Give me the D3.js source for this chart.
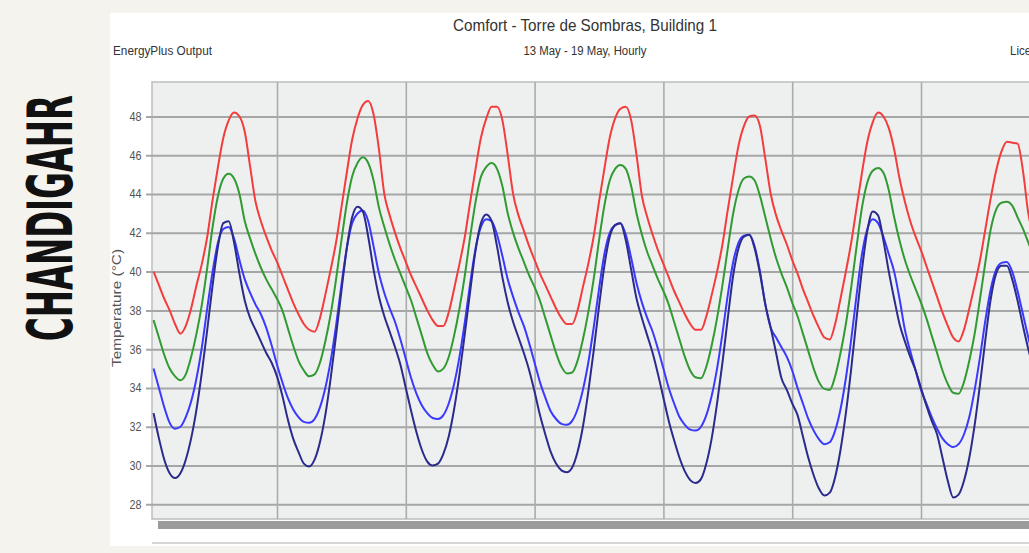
<!DOCTYPE html>
<html><head><meta charset="utf-8">
<script src="https://cdn.jsdelivr.net/npm/d3@7/dist/d3.min.js"></script>
<style>
html,body{margin:0;padding:0;background:#f4f3ee;overflow:hidden;}
svg{display:block;}
</style></head><body>
<svg id="c" width="1029" height="553"></svg>
<script>
// ---- data (hourly, 13 May 01:00 onward) ----
const yTicks = [28,30,32,34,36,38,40,42,44,46,48];
const dayBreaks = [24,48,72,96,120,144];
const titleText = "Comfort - Torre de Sombras, Building 1";
const subtitleText = "13 May - 19 May, Hourly";
const sideLabel = "CHANDIGAHR";
const yLabel = "Temperature (°C)";

const seriesRed = [
 40.0,39.3,38.6,38.0,37.3,36.8,37.2,38.1,39.3,40.4,41.8,43.7,45.4,46.9,47.8,48.2,48.0,47.2,45.4,43.6,42.6,41.8,41.1,40.5,
 39.8,39.1,38.4,37.8,37.3,37.0,36.9,37.6,38.8,40.1,41.5,43.3,45.1,46.8,47.9,48.6,48.8,48.1,46.3,44.0,42.9,42.0,41.2,40.5,
 39.8,39.2,38.6,38.0,37.5,37.2,37.2,37.9,39.1,40.4,41.8,43.6,45.3,46.9,47.9,48.5,48.5,47.8,46.0,44.0,42.9,42.1,41.3,40.6,
 39.9,39.3,38.7,38.1,37.6,37.3,37.3,38.0,39.2,40.4,41.8,43.6,45.3,46.9,47.9,48.4,48.5,47.8,46.0,43.9,42.8,41.9,41.1,40.4,
 39.7,39.0,38.4,37.8,37.3,37.0,37.0,37.7,38.8,40.0,41.4,43.2,44.9,46.5,47.5,48.0,48.05,47.5,45.8,44.0,42.9,42.1,41.4,40.6,
 39.9,39.1,38.4,37.7,37.1,36.6,36.5,37.3,38.6,40.0,41.5,43.3,45.1,46.7,47.7,48.2,48.0,47.4,46.3,44.8,43.6,42.6,41.8,41.1,
 40.3,39.5,38.7,37.9,37.2,36.6,36.4,37.0,38.1,39.3,40.6,42.2,43.8,45.2,46.2,46.7,46.65,46.6,45.2,43.0,41.8
];
const seriesGreen = [
 37.5,36.6,35.7,35.0,34.6,34.4,34.7,35.6,36.8,38.3,40.2,42.3,43.9,44.8,45.05,44.8,44.0,42.6,41.7,40.9,40.2,39.6,39.1,38.6,
 38.0,37.1,36.2,35.4,34.9,34.6,34.7,35.3,36.4,37.8,39.6,41.6,43.5,44.9,45.6,45.9,45.6,44.7,43.3,42.3,41.4,40.6,39.9,39.2,
 38.5,37.6,36.7,35.8,35.2,34.85,35.0,35.6,36.7,38.1,39.8,41.8,43.6,44.9,45.4,45.6,45.3,44.4,43.0,42.0,41.2,40.5,39.8,39.2,
 38.5,37.6,36.7,35.8,35.1,34.75,34.8,35.4,36.5,37.9,39.6,41.6,43.4,44.7,45.3,45.5,45.3,44.4,43.0,41.9,41.0,40.3,39.6,39.0,
 38.3,37.4,36.5,35.6,34.9,34.55,34.5,35.1,36.2,37.6,39.3,41.2,43.0,44.2,44.8,44.9,44.7,43.9,42.8,41.7,40.7,39.9,39.2,38.4,
 37.7,36.8,35.9,35.0,34.3,33.95,33.9,34.6,35.8,37.3,39.2,41.3,43.3,44.6,45.2,45.35,45.1,44.2,42.8,41.6,40.6,39.8,39.1,38.4,
 37.6,36.7,35.8,34.9,34.2,33.75,33.7,34.3,35.4,36.8,38.6,40.5,42.2,43.2,43.55,43.6,43.4,42.8,42.2,41.5,40.8
];
const seriesBlue = [
 35.0,34.0,33.0,32.2,31.9,32.0,32.5,33.3,34.5,36.1,38.1,40.0,41.5,42.2,42.3,41.7,40.6,39.6,38.9,38.3,37.8,37.1,36.2,35.2,
 34.3,33.5,32.9,32.5,32.25,32.2,32.4,33.0,34.0,35.4,37.2,39.3,41.2,42.5,43.0,43.15,42.6,41.3,39.9,38.9,38.1,37.4,36.5,35.5,
 34.5,33.7,33.1,32.7,32.45,32.4,32.6,33.2,34.2,35.6,37.4,39.4,41.2,42.3,42.7,42.6,41.9,40.8,39.6,38.7,37.9,37.2,36.3,35.3,
 34.3,33.5,32.8,32.4,32.15,32.1,32.3,32.9,33.9,35.3,37.1,39.1,40.9,42.0,42.4,42.5,41.9,40.7,39.4,38.4,37.6,36.9,36.0,35.0,
 34.0,33.2,32.5,32.1,31.85,31.8,32.0,32.6,33.6,35.0,36.8,38.8,40.5,41.5,41.85,41.9,41.3,40.0,38.3,37.1,36.6,36.1,35.6,34.9,
 34.0,33.2,32.4,31.8,31.35,31.1,31.2,31.8,32.9,34.5,36.5,38.8,40.9,42.2,42.7,42.5,41.8,40.9,40.0,38.6,37.0,35.9,34.9,33.9,
 33.2,32.5,31.9,31.4,31.1,30.95,31.1,31.6,32.5,33.9,35.6,37.5,39.1,40.1,40.45,40.5,40.0,39.0,37.8,36.6,35.5
];
const seriesNavy = [
 32.7,31.4,30.3,29.6,29.35,29.6,30.3,31.4,32.9,34.8,37.0,39.3,41.3,42.5,42.6,41.5,39.9,38.5,37.6,37.0,36.4,35.8,35.3,34.6,
 33.6,32.4,31.4,30.7,30.1,29.95,30.3,31.2,32.6,34.5,36.7,39.0,41.2,42.8,43.35,43.1,41.8,40.1,38.7,37.7,36.9,36.1,35.2,34.0,
 32.8,31.7,30.8,30.2,30.0,30.1,30.6,31.5,32.9,34.7,36.8,39.0,41.1,42.5,42.95,42.6,41.3,39.7,38.4,37.4,36.6,35.8,34.9,33.8,
 32.6,31.6,30.7,30.1,29.75,29.65,29.9,30.7,32.0,33.8,35.9,38.2,40.3,41.8,42.4,42.5,41.6,40.1,38.6,37.6,36.7,35.8,34.7,33.5,
 32.3,31.3,30.4,29.7,29.25,29.1,29.3,30.1,31.4,33.2,35.3,37.6,39.8,41.2,41.8,41.9,41.2,39.9,38.3,37.1,35.8,34.5,33.9,33.2,
 32.6,31.5,30.4,29.5,28.8,28.45,28.6,29.4,30.8,32.7,35.0,37.6,40.1,42.1,43.1,42.9,41.6,40.0,38.6,37.3,36.4,35.6,34.9,34.0,
 33.1,32.3,31.6,30.4,29.2,28.35,28.5,29.2,30.4,32.1,34.2,36.5,38.6,39.9,40.3,40.3,39.6,38.5,37.2,36.0,35.0
];
const seriesList = [
  {values: seriesRed,   color: "#f43c3c"},
  {values: seriesGreen, color: "#329a32"},
  {values: seriesBlue,  color: "#3a3aff"},
  {values: seriesNavy,  color: "#2b2b8c"}
];

// ---- layout ----
const svg = d3.select("#c");
const W = 1029, H = 553;
const plot = {l:152, t:82, r:1040, b:519};
const FONT = "'Liberation Sans Narrow','Arial Narrow','Liberation Sans',Arial,sans-serif";

svg.append("rect").attr("x",0).attr("y",0).attr("width",W).attr("height",H).attr("fill","#f4f3ee");
svg.append("rect").attr("x",110).attr("y",13).attr("width",W-110).attr("height",533).attr("fill","#ffffff");

const x = d3.scaleLinear().domain([0,168]).range([148.2, 148.2 + 7*128.8]);
const y = d3.scaleLinear().domain([28,48]).range([504.3,116.5]);

// shadow under plot
svg.append("rect").attr("x",158).attr("y",521).attr("width",W-158).attr("height",8).attr("fill","#9c9c9c");
svg.append("line").attr("x1",152).attr("x2",W).attr("y1",543).attr("y2",543).attr("stroke","#c8c8c8").attr("stroke-width",1.5);

// plot background
svg.append("rect").attr("x",plot.l).attr("y",plot.t).attr("width",plot.r-plot.l).attr("height",plot.b-plot.t)
  .attr("fill","#eef0f0").attr("stroke","#bdbdbd").attr("stroke-width",1.5);

svg.append("defs").append("clipPath").attr("id","clip").append("rect")
  .attr("x",plot.l).attr("y",plot.t).attr("width",plot.r-plot.l).attr("height",plot.b-plot.t);

// horizontal grid + ticks
const yAxis = d3.axisLeft(y).tickValues(yTicks).tickFormat(d3.format("d"))
  .tickSize(-(plot.r-plot.l)-6).tickPadding(5);
const gy = svg.append("g").attr("transform",`translate(${plot.l-6},0)`).call(yAxis);
gy.select(".domain").remove();
gy.selectAll(".tick line").attr("stroke","#a6a6a6").attr("stroke-width",2);
gy.selectAll(".tick text").attr("fill","#555").style("font-family",FONT).style("font-size","12px")
  .attr("transform","scale(0.9,1)");

// vertical day gridlines
const xAxis = d3.axisBottom(x).tickValues(dayBreaks).tickSize(-(plot.b-plot.t)).tickFormat("");
const gx = svg.append("g").attr("transform",`translate(0,${plot.b})`).call(xAxis);
gx.select(".domain").remove();
gx.selectAll(".tick line").attr("stroke","#ababab").attr("stroke-width",1.6);

// lines
const line = d3.line().x((d,i)=>x(i+1)).y(d=>y(d)).curve(d3.curveMonotoneX);
const gl = svg.append("g").attr("clip-path","url(#clip)");
seriesList.forEach(s=>{
  gl.append("path").datum(s.values).attr("d",line).attr("fill","none")
    .attr("stroke",s.color).attr("stroke-width",2).attr("stroke-linejoin","round");
});

// texts
svg.append("text").attr("x",585).attr("y",31).attr("text-anchor","middle")
  .attr("textLength",264).attr("lengthAdjust","spacingAndGlyphs")
  .style("font-family",FONT).style("font-size","17px").attr("fill","#333").text(titleText);
svg.append("text").attr("x",585).attr("y",55).attr("text-anchor","middle")
  .attr("textLength",123).attr("lengthAdjust","spacingAndGlyphs")
  .style("font-family",FONT).style("font-size","12px").attr("fill","#333").text(subtitleText);
svg.append("text").attr("x",113).attr("y",55)
  .attr("textLength",99).attr("lengthAdjust","spacingAndGlyphs")
  .style("font-family",FONT).style("font-size","12px").attr("fill","#333").text("EnergyPlus Output");
svg.append("text").attr("x",1010).attr("y",55)
  .attr("textLength",46).attr("lengthAdjust","spacingAndGlyphs")
  .style("font-family",FONT).style("font-size","12px").attr("fill","#333").text("Licensed");
svg.append("text").attr("transform","translate(121,308) rotate(-90)").attr("text-anchor","middle")
  .attr("textLength",118).attr("lengthAdjust","spacingAndGlyphs")
  .style("font-family",FONT).style("font-size","12px").attr("fill","#555").text(yLabel);

// big side label: condensed by a scale transform so its box is the drawn size
const side = svg.append("text").attr("text-anchor","middle")
  .style("font-family","'Liberation Sans Narrow','DejaVu Sans Condensed',sans-serif")
  .style("font-weight","bold").style("font-size","62px").attr("fill","#111").text(sideLabel);
const natural = side.node().getComputedTextLength() || 420;
const sx = 246 / natural;
side.attr("transform",`translate(72,218) rotate(-90) scale(${sx},1)`);
</script>
</body></html>
